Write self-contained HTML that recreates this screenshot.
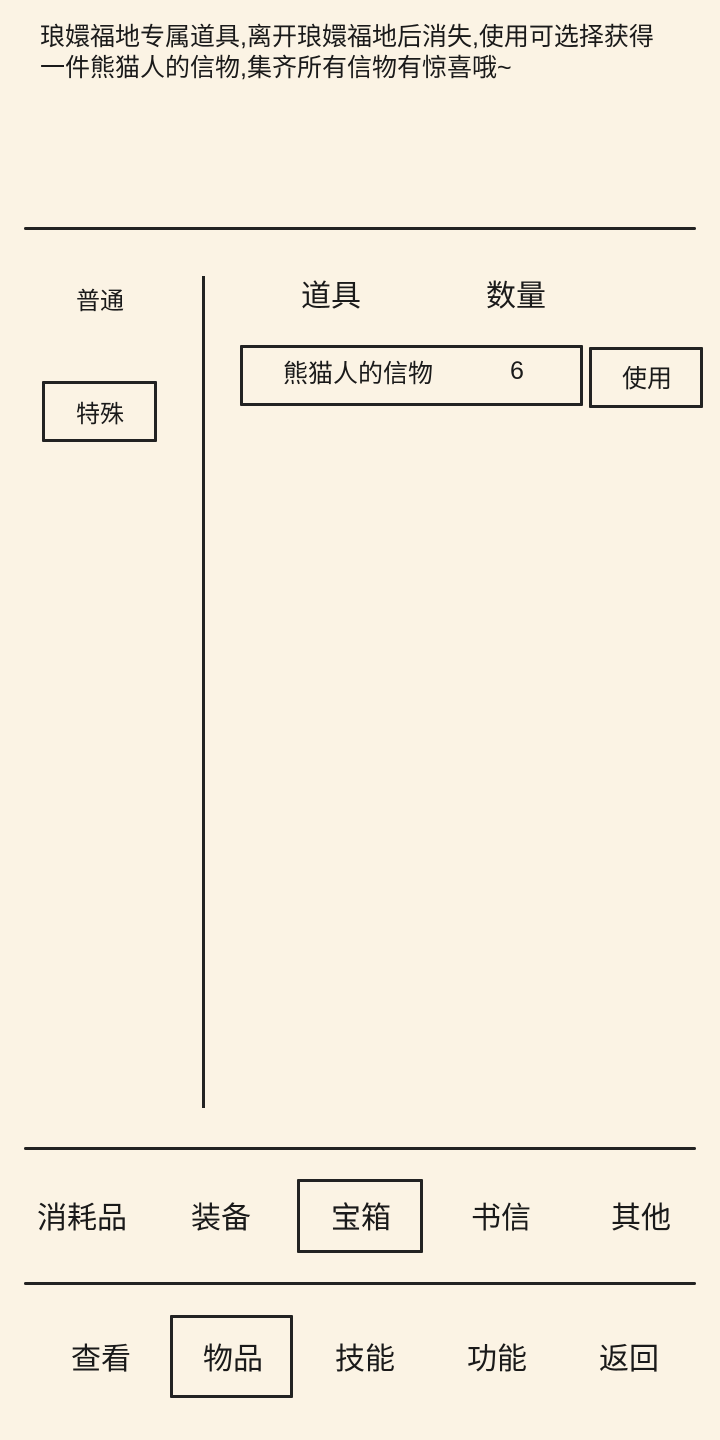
<!DOCTYPE html>
<html><head><meta charset="utf-8"><style>
*{margin:0;padding:0;box-sizing:border-box}
body{width:720px;height:1440px;background:#fbf3e4;position:relative;overflow:hidden;font-family:"Liberation Sans","Noto Sans CJK SC",sans-serif;color:#1a1a1a}
.t{position:absolute;white-space:nowrap}
.box{position:absolute;border:3px solid #222;border-radius:1px}
.hl{position:absolute;height:3px;background:#222;border-radius:2px}
</style></head><body>
<div class="t" style="left:40px;top:22px;font-size:25px;line-height:31px">琅嬛福地专属道具,离开琅嬛福地后消失,使用可选择获得<br>一件熊猫人的信物,集齐所有信物有惊喜哦~</div>
<div class="hl" style="left:24px;top:227px;width:672px"></div>
<div class="t" style="left:76px;top:281px;font-size:24px">普通</div>
<div class="box" style="left:42px;top:381px;width:115px;height:61px"></div>
<div class="t" style="left:76px;top:394px;font-size:24px">特殊</div>
<div style="position:absolute;left:202px;top:276px;width:3px;height:832px;background:#222"></div>
<div class="t" style="left:301px;top:271px;font-size:30px">道具</div>
<div class="t" style="left:486px;top:271px;font-size:30px">数量</div>
<div class="box" style="left:240px;top:345px;width:343px;height:61px"></div>
<div class="t" style="left:283px;top:354px;font-size:25px">熊猫人的信物</div>
<div class="t" style="left:510px;top:357px;font-size:25px">6</div>
<div class="box" style="left:589px;top:347px;width:114px;height:61px"></div>
<div class="t" style="left:622px;top:359px;font-size:25px">使用</div>
<div class="hl" style="left:24px;top:1147px;width:672px"></div>
<div class="t" style="left:37px;top:1193px;font-size:30px">消耗品</div>
<div class="t" style="left:191px;top:1193px;font-size:30px">装备</div>
<div class="box" style="left:297px;top:1179px;width:126px;height:74px"></div>
<div class="t" style="left:331px;top:1193px;font-size:30px">宝箱</div>
<div class="t" style="left:471px;top:1193px;font-size:30px">书信</div>
<div class="t" style="left:611px;top:1193px;font-size:30px">其他</div>
<div class="hl" style="left:24px;top:1282px;width:672px"></div>
<div class="t" style="left:71px;top:1334px;font-size:30px">查看</div>
<div class="box" style="left:170px;top:1315px;width:123px;height:83px"></div>
<div class="t" style="left:203px;top:1334px;font-size:30px">物品</div>
<div class="t" style="left:335px;top:1334px;font-size:30px">技能</div>
<div class="t" style="left:467px;top:1334px;font-size:30px">功能</div>
<div class="t" style="left:599px;top:1334px;font-size:30px">返回</div>
</body></html>
